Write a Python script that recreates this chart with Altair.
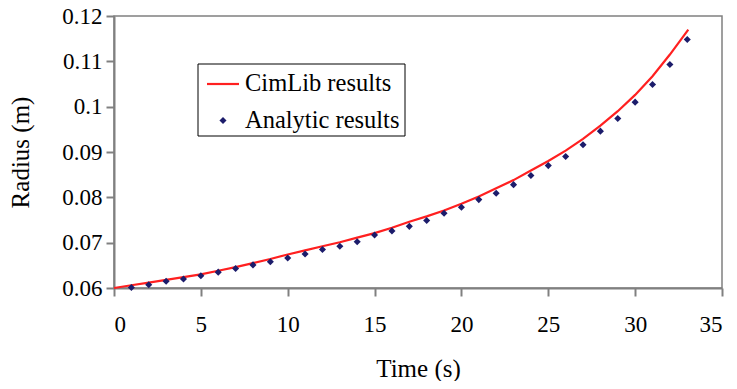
import altair as alt
import pandas as pd

# ---- data ----
line_t = [0, 1, 2, 3, 4, 5, 6, 7, 8, 9, 10, 11, 12, 13, 14, 15, 16, 17, 18, 19, 20,
          21, 22, 23, 24, 25, 26, 27, 28, 29, 30, 31, 32, 33.06]
line_r = [0.0600, 0.0606, 0.0612, 0.0618, 0.0624, 0.0630, 0.0638, 0.0646, 0.0655,
          0.0664, 0.0674, 0.0683, 0.0692, 0.0701, 0.0711, 0.0721, 0.0733, 0.0746,
          0.0758, 0.0771, 0.0786, 0.0802, 0.0820, 0.0838, 0.0859, 0.0880, 0.0903,
          0.0929, 0.0958, 0.0990, 0.1026, 0.1067, 0.1115, 0.1170]

pts_t = list(range(1, 34))
pts_r = [0.0601, 0.0607, 0.0615, 0.0620, 0.0627, 0.0635, 0.0643, 0.0651, 0.0658,
         0.0666, 0.0675, 0.0685, 0.0692, 0.0702, 0.0717, 0.0726, 0.0736, 0.0749,
         0.0765, 0.0778, 0.0795, 0.0809, 0.0828, 0.0848, 0.0870, 0.0890, 0.0916,
         0.0946, 0.0974, 0.1010, 0.1049, 0.1093, 0.1148]

legend_labels = ["CimLib results", "Analytic results"]
x_ticks = [0, 5, 10, 15, 20, 25, 30, 35]
y_ticks = [0.06, 0.07, 0.08, 0.09, 0.10, 0.11, 0.12]

RED = "#ff2020"
NAVY = "#1c1c6b"
GRAY = "#808080"
FONT = "Liberation Serif"

line_df = pd.DataFrame({"t": line_t, "r": line_r})
pts_df = pd.DataFrame({"t": pts_t, "r": pts_r})

x_enc = alt.X("t:Q", scale=alt.Scale(domain=[0, 35], nice=False),
              axis=alt.Axis(values=x_ticks, title="Time (s)", format="d"))
y_enc = alt.Y("r:Q", scale=alt.Scale(domain=[0.06, 0.12], nice=False, zero=False),
              axis=alt.Axis(values=y_ticks, title="Radius (m)", format="~g"))

line = alt.Chart(line_df).mark_line(color=RED, strokeWidth=2.2).encode(x=x_enc, y=y_enc)
pts = alt.Chart(pts_df).mark_point(shape="diamond", filled=True, color=NAVY,
                                   size=50, opacity=1).encode(x="t:Q", y="r:Q")

one = alt.Data(values=[{"a": 1}])
box = alt.Chart(one).mark_rect(fill="white", stroke="#000000", strokeWidth=1).encode(
    x=alt.value(84), x2=alt.value(291), y=alt.value(48), y2=alt.value(120))
leg_line = alt.Chart(one).mark_rule(color=RED, strokeWidth=2.2).encode(
    x=alt.value(93), x2=alt.value(125), y=alt.value(68))
leg_pt = alt.Chart(one).mark_point(shape="diamond", filled=True, color=NAVY,
                                   size=50, opacity=1).encode(
    x=alt.value(109), y=alt.value(104.5))
leg_t1 = alt.Chart(one).mark_text(align="left", baseline="middle", font=FONT,
                                  fontSize=24.5, color="black").encode(
    x=alt.value(131), y=alt.value(68), text=alt.value(legend_labels[0]))
leg_t2 = alt.Chart(one).mark_text(align="left", baseline="middle", font=FONT,
                                  fontSize=24.5, color="black").encode(
    x=alt.value(131), y=alt.value(104.5), text=alt.value(legend_labels[1]))

chart = alt.layer(line, pts, box, leg_line, leg_pt, leg_t1, leg_t2).properties(
    width=608, height=272,
    autosize=alt.AutoSizeParams(type="none"),
    padding={"left": 106, "top": 8, "right": 7, "bottom": 93},
    background="white",
).configure_view(
    stroke=GRAY, strokeWidth=1.5
).configure_axis(
    grid=False, domainColor=GRAY, domainWidth=2, tickColor=GRAY, tickWidth=2,
    tickSize=8, labelFont=FONT, labelFontSize=23, labelColor="black",
    titleFont=FONT, titleFontSize=25, titleFontWeight="normal", titleColor="black",
).configure_axisX(
    labelPadding=17, titlePadding=20
).configure_axisY(
    labelPadding=4, titlePadding=28
)

chart.save("out.html", embed_options={"renderer": "svg", "actions": False})
